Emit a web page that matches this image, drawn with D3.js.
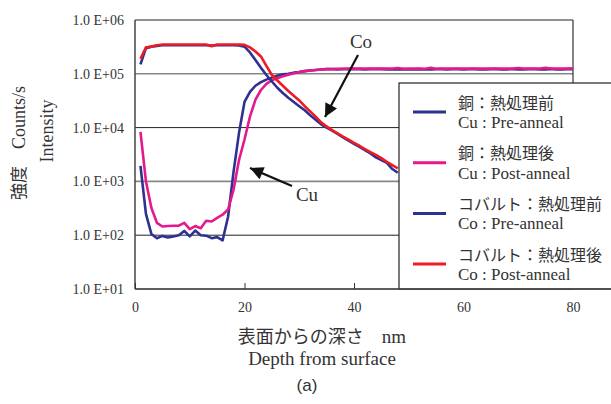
<!DOCTYPE html>
<html>
<head>
<meta charset="utf-8">
<script src="https://cdn.jsdelivr.net/npm/d3@7"></script>
<style>
  body { margin: 0; background: #fff; }
  svg text { fill: #333; }
</style>
</head>
<body>
<div id="chart"></div>
<script>
(function(d3) {
  'use strict';

  var serif = '"Liberation Serif", "Noto Sans CJK JP", serif';

  // depth in nm, intensity in counts/s
  var cuDepth = d3.range(1, 81);
  var coDepth = d3.range(1, 49);

  var cuPre = [
    1950, 250, 105, 88, 97, 91, 95, 100, 120, 95,
    122, 100, 98, 88, 92, 80, 220, 1500, 8000, 30000,
    46000, 60000, 70000, 78000, 85000, 92000, 98000, 100000, 105000, 108000,
    112000, 115000, 118000, 120000, 122000, 122000, 121000, 122000, 123000, 122000,
    122000, 121000, 122000, 123000, 122000, 121000, 121000, 121000, 122000, 121000,
    121000, 122000, 120000, 121000, 122000, 122000, 121000, 122000, 122000, 121000,
    122000, 122000, 121000, 121000, 122000, 122000, 121000, 121000, 122000, 121000,
    121000, 122000, 122000, 121000, 121000, 123000, 121000, 121000, 122000, 122000
  ];
  var cuPost = [
    8300, 1000, 320, 170, 145, 148, 150, 150, 170, 130,
    148, 135, 185, 180, 210, 240, 300, 700, 2500, 6000,
    16000, 33000, 50000, 65000, 76000, 83000, 90000, 96000, 102000, 108000,
    112000, 115000, 118000, 120000, 122000, 123000, 124000, 124000, 125000, 125000,
    125000, 125000, 125000, 125000, 125000, 125000, 125000, 128000, 124000, 125000,
    125000, 125000, 124000, 129000, 124000, 125000, 125000, 125000, 125000, 125000,
    125000, 125000, 125000, 125000, 125000, 125000, 125000, 125000, 125000, 128000,
    125000, 125000, 125000, 125000, 129000, 125000, 125000, 125000, 125000, 126000
  ];
  var coPre = [
    150000, 300000, 320000, 330000, 340000, 340000, 340000, 340000, 340000, 340000,
    340000, 340000, 340000, 335000, 340000, 340000, 340000, 340000, 335000, 320000,
    250000, 180000, 130000, 95000, 72000, 55000, 44000, 36000, 30000, 25000,
    21000, 17000, 14000, 11500, 10000, 8800, 7600, 6600, 5700, 5000,
    4400, 3800, 3300, 2800, 2500, 2200, 1700, 1450
  ];
  var coPost = [
    190000, 310000, 320000, 340000, 350000, 350000, 350000, 350000, 350000, 350000,
    350000, 350000, 350000, 325000, 350000, 350000, 350000, 350000, 350000, 345000,
    310000, 260000, 210000, 140000, 95000, 75000, 60000, 48000, 39000, 32000,
    25000, 20000, 16000, 12500, 10500, 9000, 7800, 6800, 6000, 5200,
    4600, 4000, 3500, 3100, 2700, 2300, 2000, 1750
  ];

  var xTicks = [0, 20, 40, 60, 80];
  var yTicks = [1e1, 1e2, 1e3, 1e4, 1e5, 1e6];

  var series = [
    { depth: cuDepth, values: cuPre, color: '#2e3192', jp: '銅：熱処理前', en: 'Cu : Pre-anneal' },
    { depth: cuDepth, values: cuPost, color: '#e6198c', jp: '銅：熱処理後', en: 'Cu : Post-anneal' },
    { depth: coDepth, values: coPre, color: '#2e3192', jp: 'コバルト：熱処理前', en: 'Co : Pre-anneal' },
    { depth: coDepth, values: coPost, color: '#ed1c24', jp: 'コバルト：熱処理後', en: 'Co : Post-anneal' }
  ];

  var width = 611, height = 404;
  var left = 135, right = 573, top = 20, bottom = 289;

  var svg = d3.select('#chart').append('svg')
    .attr('width', width)
    .attr('height', height)
    .style('font-family', serif);

  var x = d3.scaleLinear().domain([0, 80]).range([left, right]);
  var y = d3.scaleLog().domain([10, 1e6]).range([bottom, top]);

  // grid lines
  svg.append('g').selectAll('line').data(yTicks).enter().append('line')
    .attr('x1', left).attr('x2', right)
    .attr('y1', function(d) { return y(d); })
    .attr('y2', function(d) { return y(d); })
    .attr('stroke', function(d, i) { return i % 2 ? '#222' : '#888'; })
    .attr('stroke-width', function(d, i) { return i % 2 ? 1 : 1.6; });

  // frame
  svg.append('line').attr('x1', right).attr('x2', right).attr('y1', top).attr('y2', bottom)
    .attr('stroke', '#333').attr('stroke-width', 1.2);
  svg.append('line').attr('x1', left).attr('x2', left).attr('y1', top).attr('y2', bottom)
    .attr('stroke', '#444').attr('stroke-width', 1.5);

  // axes
  var fmt = function(d) { return '1.0 E+0' + Math.round(Math.log10(d)); };
  var yAxis = svg.append('g')
    .attr('transform', 'translate(' + left + ',0)')
    .call(d3.axisLeft(y).tickValues(yTicks).tickFormat(fmt).tickSize(0).tickPadding(11));
  yAxis.select('.domain').remove();
  yAxis.selectAll('text').style('font-size', '14px').style('font-family', serif).attr('fill', '#333');

  var xAxis = svg.append('g')
    .attr('transform', 'translate(0,' + bottom + ')')
    .call(d3.axisBottom(x).tickValues(xTicks).tickSize(-6).tickPadding(13));
  xAxis.select('.domain').remove();
  xAxis.selectAll('line').attr('stroke', '#333');
  xAxis.selectAll('text').style('font-size', '14px').style('font-family', serif).attr('fill', '#333');

  // lines
  var line = d3.line()
    .x(function(d) { return x(d[0]); })
    .y(function(d) { return y(d[1]); });

  svg.append('g').selectAll('path').data(series).enter().append('path')
    .attr('d', function(s) { return line(d3.zip(s.depth, s.values)); })
    .attr('fill', 'none')
    .attr('stroke', function(s) { return s.color; })
    .attr('stroke-width', 2.6)
    .attr('stroke-linejoin', 'round');

  // legend
  var lg = svg.append('g');
  lg.append('rect')
    .attr('x', 399).attr('y', 83)
    .attr('width', 220).attr('height', bottom - 83)
    .attr('fill', '#fff').attr('stroke', '#222').attr('stroke-width', 1.2);

  var entry = lg.selectAll('g.entry').data(series).enter().append('g')
    .attr('class', 'entry')
    .attr('transform', function(d, i) { return 'translate(0,' + (112 + i * 50.7) + ')'; });
  entry.append('line')
    .attr('x1', 413).attr('x2', 446)
    .attr('stroke', function(s) { return s.color; })
    .attr('stroke-width', 3);
  entry.append('text')
    .attr('x', 458).attr('y', -9).attr('dy', '0.35em')
    .style('font-size', '16px').style('font-family', serif)
    .text(function(s) { return s.jp; });
  entry.append('text')
    .attr('x', 458).attr('y', 10).attr('dy', '0.35em')
    .style('font-size', '17px').style('font-family', serif)
    .text(function(s) { return s.en; });

  // bottom line across
  svg.append('line').attr('x1', left).attr('x2', width).attr('y1', bottom).attr('y2', bottom)
    .attr('stroke', '#444').attr('stroke-width', 1.5);

  // annotations
  svg.append('defs').append('marker')
    .attr('id', 'arrow')
    .attr('viewBox', '0 0 10 10')
    .attr('refX', 10).attr('refY', 5)
    .attr('markerWidth', 7).attr('markerHeight', 6)
    .attr('markerUnits', 'strokeWidth')
    .attr('orient', 'auto')
    .append('path').attr('d', 'M0,0L10,5L0,10Z').attr('fill', '#111');

  svg.append('line').attr('x1', 358).attr('y1', 55).attr('x2', 325).attr('y2', 117)
    .attr('stroke', '#111').attr('stroke-width', 2.2).attr('marker-end', 'url(#arrow)');
  svg.append('text').attr('x', 361).attr('y', 41).attr('dy', '0.35em')
    .attr('text-anchor', 'middle').style('font-size', '19px').text('Co');

  svg.append('line').attr('x1', 292).attr('y1', 186).attr('x2', 250).attr('y2', 168)
    .attr('stroke', '#111').attr('stroke-width', 2.2).attr('marker-end', 'url(#arrow)');
  svg.append('text').attr('x', 307).attr('y', 194).attr('dy', '0.35em')
    .attr('text-anchor', 'middle').style('font-size', '19px').text('Cu');

  // axis titles
  var yt = svg.append('text')
    .attr('transform', 'translate(19,143) rotate(-90)')
    .attr('text-anchor', 'middle').attr('dy', '0.35em');
  yt.append('tspan').style('font-size', '17px').text('強度　');
  yt.append('tspan').style('font-size', '18px').text('Counts/s');
  svg.append('text')
    .attr('transform', 'translate(47,131) rotate(-90)')
    .attr('text-anchor', 'middle').attr('dy', '0.35em')
    .style('font-size', '18px').text('Intensity');

  var xt = svg.append('text').attr('x', 322).attr('y', 337).attr('dy', '0.35em')
    .attr('text-anchor', 'middle');
  xt.append('tspan').style('font-size', '18px').text('表面からの深さ　');
  xt.append('tspan').style('font-size', '19px').text('nm');
  svg.append('text').attr('x', 322).attr('y', 358).attr('dy', '0.35em')
    .attr('text-anchor', 'middle').style('font-size', '19px').text('Depth from surface');
  svg.append('text').attr('x', 307).attr('y', 385).attr('dy', '0.35em')
    .attr('text-anchor', 'middle').style('font-size', '17px')
    .style('font-family', '"Liberation Sans", sans-serif').text('(a)');
}(d3));
</script>
</body>
</html>
